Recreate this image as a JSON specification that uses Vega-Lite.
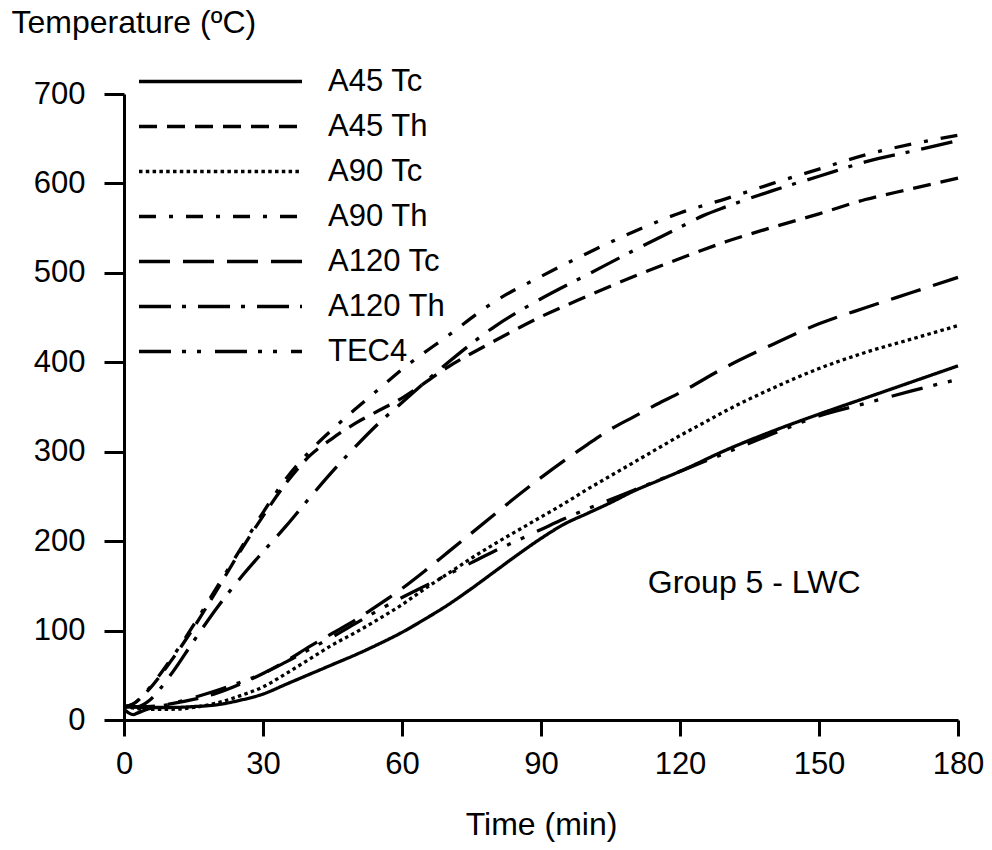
{
  "$schema": "https://vega.github.io/schema/vega-lite/v6.json",
  "width": 834,
  "height": 626,
  "autosize": {"type": "none"},
  "padding": {"left": 124, "top": 94, "right": 34, "bottom": 130},
  "config": {
    "font": "Liberation Sans",
    "view": {"stroke": null},
    "axis": {
      "grid": false,
      "domainColor": "black",
      "tickColor": "black",
      "labelColor": "black",
      "titleColor": "black",
      "domainWidth": 3,
      "tickWidth": 3,
      "labelFont": "Liberation Sans",
      "titleFont": "Liberation Sans",
      "titleFontWeight": "normal",
      "labelFlush": false,
      "labelOverlap": false
    }
  },
  "layer": [
    {
      "data": {
        "values": [
          {"series": "A45 Tc", "t": 0, "T": 15}, {"series": "A45 Tc", "t": 5, "T": 14}, {"series": "A45 Tc", "t": 10, "T": 14}, {"series": "A45 Tc", "t": 15, "T": 15}, {"series": "A45 Tc", "t": 20, "T": 17}, {"series": "A45 Tc", "t": 25, "T": 22}, {"series": "A45 Tc", "t": 30, "T": 29}, {"series": "A45 Tc", "t": 35, "T": 40}, {"series": "A45 Tc", "t": 40, "T": 51}, {"series": "A45 Tc", "t": 45, "T": 62}, {"series": "A45 Tc", "t": 50, "T": 73}, {"series": "A45 Tc", "t": 55, "T": 85}, {"series": "A45 Tc", "t": 60, "T": 98}, {"series": "A45 Tc", "t": 65, "T": 113}, {"series": "A45 Tc", "t": 70, "T": 129}, {"series": "A45 Tc", "t": 75, "T": 147}, {"series": "A45 Tc", "t": 80, "T": 166}, {"series": "A45 Tc", "t": 85, "T": 185}, {"series": "A45 Tc", "t": 90, "T": 203}, {"series": "A45 Tc", "t": 95, "T": 219}, {"series": "A45 Tc", "t": 100, "T": 231}, {"series": "A45 Tc", "t": 105, "T": 243}, {"series": "A45 Tc", "t": 110, "T": 256}, {"series": "A45 Tc", "t": 115, "T": 267}, {"series": "A45 Tc", "t": 120, "T": 278}, {"series": "A45 Tc", "t": 130, "T": 302}, {"series": "A45 Tc", "t": 140, "T": 323}, {"series": "A45 Tc", "t": 150, "T": 342}, {"series": "A45 Tc", "t": 160, "T": 360}, {"series": "A45 Tc", "t": 170, "T": 378}, {"series": "A45 Tc", "t": 180, "T": 396},

          {"series": "A45 Th", "t": 0, "T": 15}, {"series": "A45 Th", "t": 2, "T": 18}, {"series": "A45 Th", "t": 5, "T": 32}, {"series": "A45 Th", "t": 10, "T": 65}, {"series": "A45 Th", "t": 15, "T": 103}, {"series": "A45 Th", "t": 20, "T": 145}, {"series": "A45 Th", "t": 25, "T": 188}, {"series": "A45 Th", "t": 30, "T": 228}, {"series": "A45 Th", "t": 35, "T": 265}, {"series": "A45 Th", "t": 40, "T": 295}, {"series": "A45 Th", "t": 45, "T": 315}, {"series": "A45 Th", "t": 50, "T": 332}, {"series": "A45 Th", "t": 55, "T": 346}, {"series": "A45 Th", "t": 60, "T": 360}, {"series": "A45 Th", "t": 70, "T": 395}, {"series": "A45 Th", "t": 80, "T": 424}, {"series": "A45 Th", "t": 90, "T": 451}, {"series": "A45 Th", "t": 100, "T": 474}, {"series": "A45 Th", "t": 110, "T": 496}, {"series": "A45 Th", "t": 120, "T": 516}, {"series": "A45 Th", "t": 130, "T": 535}, {"series": "A45 Th", "t": 140, "T": 551}, {"series": "A45 Th", "t": 150, "T": 566}, {"series": "A45 Th", "t": 160, "T": 582}, {"series": "A45 Th", "t": 170, "T": 594}, {"series": "A45 Th", "t": 180, "T": 606},

          {"series": "A90 Tc", "t": 0, "T": 15}, {"series": "A90 Tc", "t": 5, "T": 12}, {"series": "A90 Tc", "t": 10, "T": 12}, {"series": "A90 Tc", "t": 15, "T": 14}, {"series": "A90 Tc", "t": 20, "T": 19}, {"series": "A90 Tc", "t": 25, "T": 27}, {"series": "A90 Tc", "t": 30, "T": 37}, {"series": "A90 Tc", "t": 35, "T": 52}, {"series": "A90 Tc", "t": 40, "T": 68}, {"series": "A90 Tc", "t": 45, "T": 84}, {"series": "A90 Tc", "t": 50, "T": 98}, {"series": "A90 Tc", "t": 55, "T": 113}, {"series": "A90 Tc", "t": 60, "T": 129}, {"series": "A90 Tc", "t": 65, "T": 147}, {"series": "A90 Tc", "t": 70, "T": 164}, {"series": "A90 Tc", "t": 75, "T": 181}, {"series": "A90 Tc", "t": 80, "T": 197}, {"series": "A90 Tc", "t": 85, "T": 212}, {"series": "A90 Tc", "t": 90, "T": 227}, {"series": "A90 Tc", "t": 95, "T": 242}, {"series": "A90 Tc", "t": 100, "T": 258}, {"series": "A90 Tc", "t": 105, "T": 273}, {"series": "A90 Tc", "t": 110, "T": 288}, {"series": "A90 Tc", "t": 115, "T": 303}, {"series": "A90 Tc", "t": 120, "T": 318}, {"series": "A90 Tc", "t": 125, "T": 332}, {"series": "A90 Tc", "t": 130, "T": 346}, {"series": "A90 Tc", "t": 140, "T": 371}, {"series": "A90 Tc", "t": 150, "T": 393}, {"series": "A90 Tc", "t": 160, "T": 411}, {"series": "A90 Tc", "t": 170, "T": 426}, {"series": "A90 Tc", "t": 180, "T": 441},

          {"series": "A90 Th", "t": 0, "T": 15}, {"series": "A90 Th", "t": 2, "T": 18}, {"series": "A90 Th", "t": 5, "T": 33}, {"series": "A90 Th", "t": 10, "T": 67}, {"series": "A90 Th", "t": 15, "T": 106}, {"series": "A90 Th", "t": 20, "T": 148}, {"series": "A90 Th", "t": 25, "T": 190}, {"series": "A90 Th", "t": 30, "T": 232}, {"series": "A90 Th", "t": 35, "T": 270}, {"series": "A90 Th", "t": 40, "T": 300}, {"series": "A90 Th", "t": 45, "T": 325}, {"series": "A90 Th", "t": 50, "T": 348}, {"series": "A90 Th", "t": 55, "T": 370}, {"series": "A90 Th", "t": 60, "T": 392}, {"series": "A90 Th", "t": 70, "T": 430}, {"series": "A90 Th", "t": 80, "T": 468}, {"series": "A90 Th", "t": 90, "T": 496}, {"series": "A90 Th", "t": 100, "T": 522}, {"series": "A90 Th", "t": 110, "T": 546}, {"series": "A90 Th", "t": 120, "T": 567}, {"series": "A90 Th", "t": 130, "T": 583}, {"series": "A90 Th", "t": 140, "T": 600}, {"series": "A90 Th", "t": 150, "T": 616}, {"series": "A90 Th", "t": 160, "T": 632}, {"series": "A90 Th", "t": 170, "T": 644}, {"series": "A90 Th", "t": 180, "T": 654},

          {"series": "A120 Tc", "t": 0, "T": 15}, {"series": "A120 Tc", "t": 5, "T": 15}, {"series": "A120 Tc", "t": 10, "T": 18}, {"series": "A120 Tc", "t": 15, "T": 23}, {"series": "A120 Tc", "t": 20, "T": 30}, {"series": "A120 Tc", "t": 25, "T": 40}, {"series": "A120 Tc", "t": 30, "T": 52}, {"series": "A120 Tc", "t": 35, "T": 66}, {"series": "A120 Tc", "t": 40, "T": 82}, {"series": "A120 Tc", "t": 45, "T": 97}, {"series": "A120 Tc", "t": 50, "T": 112}, {"series": "A120 Tc", "t": 55, "T": 129}, {"series": "A120 Tc", "t": 60, "T": 147}, {"series": "A120 Tc", "t": 65, "T": 167}, {"series": "A120 Tc", "t": 70, "T": 188}, {"series": "A120 Tc", "t": 75, "T": 209}, {"series": "A120 Tc", "t": 80, "T": 230}, {"series": "A120 Tc", "t": 85, "T": 251}, {"series": "A120 Tc", "t": 90, "T": 271}, {"series": "A120 Tc", "t": 95, "T": 290}, {"series": "A120 Tc", "t": 100, "T": 308}, {"series": "A120 Tc", "t": 105, "T": 325}, {"series": "A120 Tc", "t": 110, "T": 339}, {"series": "A120 Tc", "t": 115, "T": 353}, {"series": "A120 Tc", "t": 120, "T": 366}, {"series": "A120 Tc", "t": 130, "T": 395}, {"series": "A120 Tc", "t": 140, "T": 420}, {"series": "A120 Tc", "t": 150, "T": 443}, {"series": "A120 Tc", "t": 160, "T": 461}, {"series": "A120 Tc", "t": 170, "T": 478}, {"series": "A120 Tc", "t": 180, "T": 495},

          {"series": "A120 Th", "t": 0, "T": 15}, {"series": "A120 Th", "t": 3, "T": 15}, {"series": "A120 Th", "t": 5, "T": 20}, {"series": "A120 Th", "t": 10, "T": 50}, {"series": "A120 Th", "t": 15, "T": 88}, {"series": "A120 Th", "t": 20, "T": 125}, {"series": "A120 Th", "t": 25, "T": 158}, {"series": "A120 Th", "t": 30, "T": 188}, {"series": "A120 Th", "t": 35, "T": 217}, {"series": "A120 Th", "t": 40, "T": 248}, {"series": "A120 Th", "t": 45, "T": 278}, {"series": "A120 Th", "t": 50, "T": 306}, {"series": "A120 Th", "t": 55, "T": 332}, {"series": "A120 Th", "t": 60, "T": 355}, {"series": "A120 Th", "t": 70, "T": 400}, {"series": "A120 Th", "t": 80, "T": 440}, {"series": "A120 Th", "t": 90, "T": 471}, {"series": "A120 Th", "t": 100, "T": 498}, {"series": "A120 Th", "t": 110, "T": 525}, {"series": "A120 Th", "t": 120, "T": 551}, {"series": "A120 Th", "t": 125, "T": 564}, {"series": "A120 Th", "t": 130, "T": 574}, {"series": "A120 Th", "t": 140, "T": 592}, {"series": "A120 Th", "t": 150, "T": 608}, {"series": "A120 Th", "t": 160, "T": 624}, {"series": "A120 Th", "t": 170, "T": 636}, {"series": "A120 Th", "t": 180, "T": 648},

          {"series": "TEC4", "t": 0, "T": 12}, {"series": "TEC4", "t": 1, "T": 8}, {"series": "TEC4", "t": 2, "T": 6}, {"series": "TEC4", "t": 3, "T": 8}, {"series": "TEC4", "t": 5, "T": 12}, {"series": "TEC4", "t": 10, "T": 18}, {"series": "TEC4", "t": 15, "T": 25}, {"series": "TEC4", "t": 20, "T": 33}, {"series": "TEC4", "t": 25, "T": 42}, {"series": "TEC4", "t": 30, "T": 52}, {"series": "TEC4", "t": 35, "T": 65}, {"series": "TEC4", "t": 40, "T": 79}, {"series": "TEC4", "t": 45, "T": 93}, {"series": "TEC4", "t": 50, "T": 108}, {"series": "TEC4", "t": 55, "T": 123}, {"series": "TEC4", "t": 60, "T": 137}, {"series": "TEC4", "t": 65, "T": 150}, {"series": "TEC4", "t": 70, "T": 163}, {"series": "TEC4", "t": 75, "T": 176}, {"series": "TEC4", "t": 80, "T": 189}, {"series": "TEC4", "t": 85, "T": 201}, {"series": "TEC4", "t": 90, "T": 213}, {"series": "TEC4", "t": 95, "T": 225}, {"series": "TEC4", "t": 100, "T": 236}, {"series": "TEC4", "t": 110, "T": 257}, {"series": "TEC4", "t": 120, "T": 278}, {"series": "TEC4", "t": 130, "T": 299}, {"series": "TEC4", "t": 140, "T": 320}, {"series": "TEC4", "t": 150, "T": 340}, {"series": "TEC4", "t": 160, "T": 354}, {"series": "TEC4", "t": 170, "T": 368}, {"series": "TEC4", "t": 180, "T": 381}
        ]
      },
      "mark": {"type": "line", "color": "black", "strokeWidth": 3.3, "interpolate": "monotone"},
      "encoding": {
        "x": {
          "field": "t", "type": "quantitative",
          "scale": {"domain": [0, 180], "nice": false, "zero": false},
          "axis": {"values": [0, 30, 60, 90, 120, 150, 180], "tickSize": 16, "labelPadding": 13, "labelFontSize": 31, "title": "Time (min)", "titleFontSize": 32, "titlePadding": 30}
        },
        "y": {
          "field": "T", "type": "quantitative",
          "scale": {"domain": [0, 700], "nice": false},
          "axis": {"values": [0, 100, 200, 300, 400, 500, 600, 700], "tickSize": 20, "labelPadding": 19, "labelFontSize": 31, "title": "Temperature (ºC)", "titleAngle": 0, "titleAlign": "left", "titleBaseline": "alphabetic", "titleX": -113, "titleY": -62, "titleFontSize": 32}
        },
        "strokeDash": {
          "field": "series", "type": "nominal",
          "scale": {
            "domain": ["A45 Tc", "A45 Th", "A90 Tc", "A90 Th", "A120 Tc", "A120 Th", "TEC4"],
            "range": [[1, 0], [18, 10], [3.5, 3.3], [17, 13, 4, 13], [31, 13], [32, 11, 4, 12], [32, 11, 4, 11, 4, 14]]
          },
          "legend": {"orient": "none", "legendX": 13, "legendY": -28, "title": null, "symbolType": "stroke", "symbolSize": 26569, "symbolStrokeWidth": 3.3, "symbolStrokeColor": "black", "labelFontSize": 31, "labelOffset": 24, "clipHeight": 31, "rowPadding": 13, "padding": 0, "labelLimit": 300, "labelColor": "black", "labelFont": "Liberation Sans"}
        }
      }
    },
    {
      "data": {"values": [{"label": "Group 5 - LWC"}]},
      "mark": {"type": "text", "fontSize": 32, "align": "center", "baseline": "alphabetic", "color": "black"},
      "encoding": {
        "x": {"datum": 136, "type": "quantitative"},
        "y": {"datum": 142, "type": "quantitative"},
        "text": {"field": "label"}
      }
    }
  ]
}
